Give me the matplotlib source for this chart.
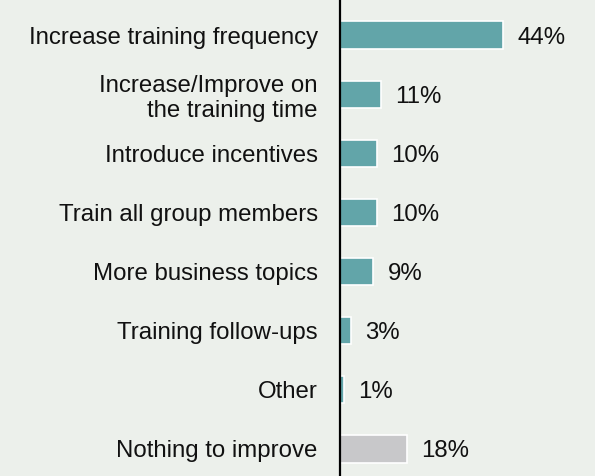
import matplotlib
matplotlib.use("Agg")
import matplotlib.pyplot as plt

categories = ["Increase training frequency", "Increase/Improve on\nthe training time",
              "Introduce incentives", "Train all group members", "More business topics",
              "Training follow-ups", "Other", "Nothing to improve"]
values = [44, 11, 10, 10, 9, 3, 1, 18]
value_labels = ["44%", "11%", "10%", "10%", "9%", "3%", "1%", "18%"]

bg = "#ECF0EB"
teal = "#62A5A9"
grey = "#C8C8CA"
colors = [teal] * 7 + [grey]

plt.rcParams['font.family'] = ['Liberation Sans', 'DejaVu Sans']

fig = plt.figure(figsize=(5.95, 4.76), dpi=100, facecolor=bg)
ax = fig.add_axes([340 / 595, 0, 255 / 595, 1])
ax.set_facecolor(bg)

y = list(range(len(categories)))
ax.barh(y, values, height=0.46, color=colors, edgecolor="white", linewidth=1.2)
for yi, v, lab in zip(y, values, value_labels):
    ax.text(v + 3.9, yi, lab, va="center_baseline", ha="left", fontsize=17.3, color="#111111")

ax.set_xlim(0, 69)
ax.set_ylim(7.457, -0.592)
ax.set_yticks(y)
ax.set_yticklabels(categories, fontsize=17.3, color="#111111", linespacing=1.2)
ax.tick_params(axis="y", length=0, pad=16)
for lbl in ax.get_yticklabels():
    lbl.set_horizontalalignment("right")
    lbl.set_multialignment("right")
ax.set_xticks([])
for s in ["top", "right", "bottom"]:
    ax.spines[s].set_visible(False)
ax.spines["left"].set_linewidth(1.6)
ax.spines["left"].set_color("black")

fig.savefig("out.png", dpi=100, facecolor=bg)
